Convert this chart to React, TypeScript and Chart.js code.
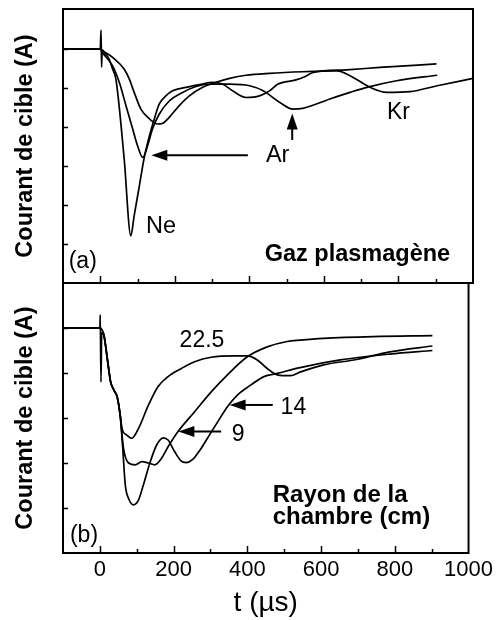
import React, { useEffect, useRef } from "react";
import { Chart, registerables } from "chart.js";

Chart.register(...registerables);

const FONT = '"Liberation Sans", Arial, Helvetica, sans-serif';

// ---------- data: time (µs) , target current (arbitrary units, panel scale) ----------
// Panel (a): plasma gas
const neonCurve: [number, number][] = [
  [-100, 0], [0, 0], [2, 0.49], [3.5, -0.46], [5, -0.02], [12, -0.1], [24, -0.26], [33, -0.51],
  [42, -0.77], [64, -2.8], [82, -4.79], [91, -4.27], [105, -3.5], [118, -2.78], [132, -2.22],
  [145, -1.79], [158, -1.41], [176, -1.2], [194, -1.07], [230, -0.98], [266, -0.91], [302, -0.85],
  [329, -0.9], [355, -1.07], [391, -1.24], [427, -1.2], [454, -1.07], [476, -0.9], [525, -0.79],
  [550, -0.7], [571, -0.6], [661, -0.53], [750, -0.47], [902, -0.38],
];
const argonCurve: [number, number][] = [
  [-100, 0], [0, 0], [6, -0.09], [33, -0.43], [51, -0.85], [69, -1.45], [87, -2.05], [100, -2.48],
  [114, -2.78], [127, -2.48], [140, -2.05], [158, -1.67], [185, -1.33], [221, -1.11], [257, -0.96],
  [293, -0.9], [347, -0.9], [401, -0.94], [437, -1.07], [482, -1.37], [517, -1.54], [543, -1.52],
  [616, -1.28], [670, -1.11], [715, -0.98], [795, -0.81], [904, -0.67],
];
const kryptonCurve: [number, number][] = [
  [-100, 0], [0, 0], [6, -0.04], [33, -0.21], [64, -0.51], [78, -0.77], [91, -1.11], [109, -1.54],
  [132, -1.79], [154, -1.92], [168, -1.9], [185, -1.75], [212, -1.45], [239, -1.2], [275, -0.98],
  [311, -0.85], [347, -0.75], [391, -0.67], [454, -0.62], [543, -0.58], [635, -0.56], [670, -0.68],
  [724, -0.98], [769, -1.11], [831, -1.09], [904, -0.94], [1000, -0.75],
];

// Panel (b): chamber radius (cm)
const radius22_5: [number, number][] = [
  [-100, 0], [0, 0], [1, 0.29], [3, -1.2], [5, -0.1], [11, -0.16], [20, -0.67], [29, -1.19],
  [38, -1.38], [47, -1.53], [55, -1.93], [60, -2.23], [73, -2.38], [87, -2.45], [105, -2.23],
  [132, -1.71], [158, -1.3], [185, -1.08], [221, -0.9], [257, -0.75], [302, -0.65], [364, -0.62],
  [400, -0.62], [427, -0.71], [454, -0.9], [481, -1.04], [517, -1.06], [543, -0.98], [607, -0.82],
  [696, -0.7], [786, -0.53], [902, -0.4],
];
const radius9: [number, number][] = [
  [-100, 0], [0, 0], [11, -0.16], [20, -0.67], [29, -1.19], [38, -1.38], [47, -1.53], [55, -1.93],
  [64, -2.67], [78, -3.0], [96, -3.04], [114, -2.97], [132, -3.0], [149, -3.04], [167, -2.9],
  [185, -2.64], [212, -2.3], [257, -1.86], [302, -1.42], [346, -1.04], [400, -0.64], [454, -0.42],
  [508, -0.3], [543, -0.27], [607, -0.23], [741, -0.19], [902, -0.17],
];
const radius14: [number, number][] = [
  [-100, 0], [0, 0], [11, -0.16], [20, -0.67], [29, -1.19], [38, -1.38], [47, -1.53], [55, -1.93],
  [62, -2.67], [69, -3.49], [78, -3.79], [91, -3.93], [105, -3.82], [118, -3.49], [136, -2.99],
  [154, -2.6], [172, -2.44], [185, -2.49], [203, -2.75], [221, -2.96], [234, -2.99], [252, -2.92],
  [275, -2.67], [297, -2.38], [320, -2.08], [346, -1.75], [373, -1.49], [409, -1.27], [445, -1.08],
  [481, -1.01], [543, -0.88], [652, -0.71], [786, -0.58], [902, -0.5],
];

// ---------- axes ----------
const xMin = -100;
const xMax = 1000;
const xTickLabels = [0, 200, 400, 600, 800, 1000];
const xTickMarks = [0, 100, 200, 300, 400, 500, 600, 700, 800, 900];
const yRangeA = [-6, 1.03];
const yRangeB = [-5, 1];
const yTickMarksA = [-5, -4, -3, -2, -1, 0];
const yTickMarksB = [-4, -3, -2, -1, 0];
const yTitle = "Courant de cible (A)";
const xTitle = "t (µs)";

type TextItem = { text: string; t: number; v: number; size: number; bold?: boolean; align?: CanvasTextAlign };
type ArrowItem = { t1: number; v1: number; t2: number; v2: number };

const textsA: TextItem[] = [
  { text: "Ne", t: 163, v: -4.54, size: 23.5 },
  { text: "Ar", t: 476, v: -2.73, size: 23.5 },
  { text: "Kr", t: 800, v: -1.63, size: 23 },
  { text: "(a)", t: -47, v: -5.46, size: 23 },
  { text: "Gaz plasmagène", t: 690, v: -5.28, size: 23.5, bold: true },
];
const arrowsA: ArrowItem[] = [
  { t1: 396, v1: -2.72, t2: 137, v2: -2.72 },
  { t1: 515, v1: -2.33, t2: 515, v2: -1.65 },
];
const textsB: TextItem[] = [
  { text: "22.5", t: 277, v: -0.29, size: 23 },
  { text: "9", t: 375, v: -2.36, size: 23 },
  { text: "14", t: 525, v: -1.76, size: 23 },
  { text: "Rayon de la", t: 469, v: -3.71, size: 24, bold: true, align: "left" },
  { text: "chambre (cm)", t: 469, v: -4.2, size: 24, bold: true, align: "left" },
  { text: "(b)", t: -43, v: -4.62, size: 23 },
];
const arrowsB: ArrowItem[] = [
  { t1: 329, v1: -2.3, t2: 213, v2: -2.3 },
  { t1: 469, v1: -1.71, t2: 352, v2: -1.71 },
];

function decorPlugin(yTicks: number[], texts: TextItem[], arrows: ArrowItem[]) {
  return {
    id: "panelDecor",
    afterDraw(chart: any) {
      const { ctx, chartArea: ca, scales } = chart;
      const xs = scales.x;
      const ys = scales.y;
      ctx.save();
      ctx.strokeStyle = "#000";
      ctx.fillStyle = "#000";
      ctx.lineWidth = 2;
      ctx.strokeRect(ca.left, ca.top, ca.right - ca.left, ca.bottom - ca.top);
      ctx.lineWidth = 1.5;
      ctx.beginPath();
      for (const t of xTickMarks) {
        const px = Math.round(xs.getPixelForValue(t)) + 0.5;
        const len = t % 200 === 0 ? 7 : 4;
        ctx.moveTo(px, ca.bottom);
        ctx.lineTo(px, ca.bottom - len);
      }
      for (const v of yTicks) {
        const py = Math.round(ys.getPixelForValue(v)) + 0.5;
        ctx.moveTo(ca.left, py);
        ctx.lineTo(ca.left + 5, py);
      }
      ctx.stroke();

      for (const a of arrows) {
        const x1 = xs.getPixelForValue(a.t1);
        const y1 = ys.getPixelForValue(a.v1);
        const x2 = xs.getPixelForValue(a.t2);
        const y2 = ys.getPixelForValue(a.v2);
        const ang = Math.atan2(y2 - y1, x2 - x1);
        const hl = 16;
        const hw = 5.5;
        ctx.lineWidth = 2;
        ctx.beginPath();
        ctx.moveTo(x1, y1);
        ctx.lineTo(x2 - Math.cos(ang) * (hl - 2), y2 - Math.sin(ang) * (hl - 2));
        ctx.stroke();
        ctx.beginPath();
        ctx.moveTo(x2, y2);
        ctx.lineTo(x2 - Math.cos(ang) * hl - Math.sin(ang) * hw, y2 - Math.sin(ang) * hl + Math.cos(ang) * hw);
        ctx.lineTo(x2 - Math.cos(ang) * hl + Math.sin(ang) * hw, y2 - Math.sin(ang) * hl - Math.cos(ang) * hw);
        ctx.closePath();
        ctx.fill();
      }

      ctx.textBaseline = "middle";
      for (const t of texts) {
        ctx.font = `${t.bold ? "bold " : ""}${t.size}px ${FONT}`;
        ctx.textAlign = t.align || "center";
        ctx.fillText(t.text, xs.getPixelForValue(t.t), ys.getPixelForValue(t.v));
      }
      ctx.restore();
    },
  };
}

function lineDataset(points: [number, number][]) {
  return {
    data: points.map(([x, y]) => ({ x, y })),
    borderColor: "#000",
    borderWidth: 1.7,
    pointRadius: 0,
    fill: false,
    cubicInterpolationMode: "monotone" as const,
  };
}

function yAxis(range: number[]) {
  return {
    type: "linear" as const,
    min: range[0],
    max: range[1],
    display: true,
    grid: { display: false, drawTicks: false },
    border: { display: false },
    ticks: { display: false },
    title: {
      display: true,
      text: yTitle,
      color: "#000",
      font: { family: FONT, size: 23.5, weight: "bold" as const },
      padding: { top: 11, bottom: 0 },
    },
    afterFit: (s: any) => {
      s.width = 63;
    },
  };
}

export default function App() {
  const refA = useRef<HTMLCanvasElement>(null);
  const refB = useRef<HTMLCanvasElement>(null);

  useEffect(() => {
    const common = {
      animation: false as const,
      responsive: false,
      maintainAspectRatio: false,
      events: [] as any[],
    };
    const chartA = new Chart(refA.current!, {
      type: "line",
      data: { datasets: [lineDataset(neonCurve), lineDataset(argonCurve), lineDataset(kryptonCurve)] },
      options: {
        ...common,
        layout: { padding: { left: 0, right: 24, top: 9, bottom: 337 } },
        plugins: { legend: { display: false }, tooltip: { enabled: false } },
        scales: {
          x: { type: "linear", min: xMin, max: xMax, display: false },
          y: yAxis(yRangeA) as any,
        },
      },
      plugins: [decorPlugin(yTickMarksA, textsA, arrowsA)],
    });
    const chartB = new Chart(refB.current!, {
      type: "line",
      data: { datasets: [lineDataset(radius22_5), lineDataset(radius9), lineDataset(radius14)] },
      options: {
        ...common,
        layout: { padding: { left: 0, right: 24, top: 283, bottom: 0 } },
        plugins: { legend: { display: false }, tooltip: { enabled: false } },
        scales: {
          x: {
            type: "linear",
            min: xMin,
            max: xMax,
            display: true,
            afterBuildTicks: (s: any) => {
              s.ticks = xTickLabels.map((value) => ({ value }));
            },
            grid: { display: false, drawTicks: false },
            border: { display: false },
            ticks: {
              color: "#000",
              font: { family: FONT, size: 22 },
              padding: 4,
              autoSkip: false,
              maxRotation: 0,
              callback: (value: any) => String(value),
            },
            title: {
              display: true,
              text: xTitle,
              color: "#000",
              font: { family: FONT, size: 28 },
              padding: { top: 0, bottom: 0 },
            },
            afterFit: (s: any) => {
              s.height = 67;
            },
          } as any,
          y: yAxis(yRangeB) as any,
        },
      },
      plugins: [decorPlugin(yTickMarksB, textsB, arrowsB)],
    });
    return () => {
      chartA.destroy();
      chartB.destroy();
    };
  }, []);

  return (
    <div style={{ position: "absolute", left: 0, top: 0, width: 497, height: 620, background: "#fff", overflow: "hidden" }}>
      <canvas ref={refA} width={497} height={620} style={{ position: "absolute", left: 0, top: 0 }} />
      <canvas ref={refB} width={497} height={620} style={{ position: "absolute", left: 0, top: 0 }} />
    </div>
  );
}
